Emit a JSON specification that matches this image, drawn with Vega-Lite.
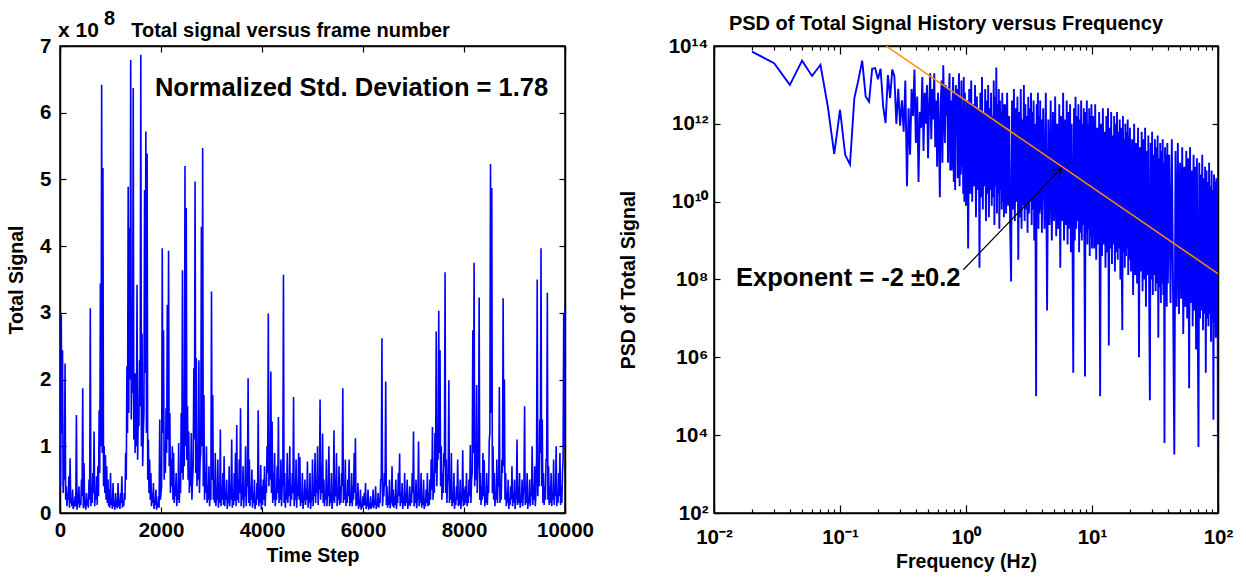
{
"$schema": "https://vega.github.io/schema/vega-lite/v6.json",
"background": "white",
"padding": {"left": 5, "top": 8, "right": 5, "bottom": 5},
"bounds": "flush",
"spacing": 149,
"config": {
  "font": "Liberation Sans",
  "view": {"stroke": "black", "strokeWidth": 1.5},
  "axis": {"grid": false, "domainColor": "black", "domainWidth": 1.5, "tickColor": "black", "tickWidth": 1.2, "labelFlush": false,
    "labelFont": "Liberation Sans", "labelFontSize": 20.5, "labelFontWeight": "bold", "labelColor": "black",
    "titleFont": "Liberation Sans", "titleFontSize": 19.5, "titleFontWeight": "bold", "titleColor": "black"},
  "text": {"font": "Liberation Sans", "fontWeight": "bold", "color": "black"}
},
"datasets": {
  "signal": [
{"t":0,"v":0.5e8},{"t":25,"v":2.97e8},{"t":50,"v":2.44e8},{"t":75,"v":0.6e8},{"t":100,"v":2.24e8},{"t":125,"v":0.4e8},{"t":150,"v":0.3e8},{"t":175,"v":0.55e8},{"t":200,"v":0.82e8},{"t":225,"v":0.2e8},
{"t":250,"v":0.35e8},{"t":275,"v":0.1e8},{"t":300,"v":0.25e8},{"t":325,"v":1.47e8},{"t":350,"v":0.15e8},{"t":375,"v":0.4e8},{"t":400,"v":0.2e8},{"t":425,"v":0.5e8},{"t":450,"v":1.87e8},{"t":475,"v":0.75e8},
{"t":500,"v":0.1e8},{"t":525,"v":0.3e8},{"t":550,"v":0.15e8},{"t":575,"v":0.5e8},{"t":600,"v":3.07e8},{"t":625,"v":0.4e8},{"t":650,"v":0.6e8},{"t":675,"v":1.22e8},{"t":700,"v":0.3e8},{"t":725,"v":0.55e8},
{"t":750,"v":0.7e8},{"t":775,"v":1.54e8},{"t":800,"v":3.44e8},{"t":825,"v":6.42e8},{"t":850,"v":5.17e8},{"t":875,"v":1.0e8},{"t":900,"v":0.87e8},{"t":925,"v":0.7e8},{"t":950,"v":0.5e8},{"t":975,"v":0.35e8},
{"t":1000,"v":0.6e8},{"t":1025,"v":0.2e8},{"t":1050,"v":0.45e8},{"t":1075,"v":0.15e8},{"t":1100,"v":0.3e8},{"t":1125,"v":0.1e8},{"t":1150,"v":0.45e8},{"t":1175,"v":0.2e8},{"t":1200,"v":0.3e8},{"t":1225,"v":0.55e8},
{"t":1250,"v":0.15e8},{"t":1275,"v":0.3e8},{"t":1300,"v":0.9e8},{"t":1325,"v":2.2e8},{"t":1350,"v":4.89e8},{"t":1375,"v":4.27e8},{"t":1400,"v":6.79e8},{"t":1425,"v":2.2e8},{"t":1450,"v":6.37e8},{"t":1475,"v":2.1e8},
{"t":1500,"v":2.09e8},{"t":1525,"v":3.42e8},{"t":1550,"v":1.5e8},{"t":1575,"v":2.29e8},{"t":1600,"v":6.87e8},{"t":1625,"v":2.69e8},{"t":1650,"v":1.2e8},{"t":1675,"v":4.84e8},{"t":1700,"v":5.72e8},{"t":1725,"v":5.39e8},
{"t":1750,"v":1.1e8},{"t":1775,"v":0.8e8},{"t":1800,"v":0.6e8},{"t":1825,"v":0.3e8},{"t":1850,"v":0.45e8},{"t":1875,"v":0.2e8},{"t":1900,"v":0.35e8},{"t":1925,"v":0.1e8},{"t":1950,"v":0.25e8},{"t":1975,"v":1.4e8},
{"t":2000,"v":0.3e8},{"t":2025,"v":3.97e8},{"t":2050,"v":2.74e8},{"t":2075,"v":1.0e8},{"t":2100,"v":1.57e8},{"t":2125,"v":3.12e8},{"t":2150,"v":3.93e8},{"t":2175,"v":1.5e8},{"t":2200,"v":0.8e8},{"t":2225,"v":1.0e8},
{"t":2250,"v":0.9e8},{"t":2275,"v":0.4e8},{"t":2300,"v":0.6e8},{"t":2325,"v":0.3e8},{"t":2350,"v":1.05e8},{"t":2375,"v":0.5e8},{"t":2400,"v":1.5e8},{"t":2425,"v":3.64e8},{"t":2450,"v":1.2e8},{"t":2475,"v":5.2e8},
{"t":2500,"v":4.57e8},{"t":2525,"v":1.6e8},{"t":2550,"v":1.22e8},{"t":2575,"v":0.6e8},{"t":2600,"v":1.2e8},{"t":2625,"v":0.5e8},{"t":2650,"v":2.17e8},{"t":2675,"v":4.97e8},{"t":2700,"v":2.32e8},{"t":2725,"v":1.0e8},
{"t":2750,"v":2.29e8},{"t":2775,"v":0.8e8},{"t":2800,"v":4.29e8},{"t":2825,"v":5.47e8},{"t":2850,"v":1.77e8},{"t":2875,"v":0.6e8},{"t":2900,"v":1.0e8},{"t":2925,"v":0.4e8},{"t":2950,"v":0.7e8},{"t":2975,"v":0.3e8},
{"t":3000,"v":3.32e8},{"t":3025,"v":1.77e8},{"t":3050,"v":0.5e8},{"t":3075,"v":0.9e8},{"t":3100,"v":0.3e8},{"t":3125,"v":0.8e8},{"t":3150,"v":0.45e8},{"t":3175,"v":1.25e8},{"t":3200,"v":0.4e8},{"t":3225,"v":0.6e8},
{"t":3250,"v":0.85e8},{"t":3275,"v":0.3e8},{"t":3300,"v":0.5e8},{"t":3325,"v":0.2e8},{"t":3350,"v":0.7e8},{"t":3375,"v":0.4e8},{"t":3400,"v":1.1e8},{"t":3425,"v":0.3e8},{"t":3450,"v":0.6e8},{"t":3475,"v":0.9e8},
{"t":3500,"v":1.32e8},{"t":3525,"v":0.5e8},{"t":3550,"v":0.8e8},{"t":3575,"v":1.57e8},{"t":3600,"v":0.4e8},{"t":3625,"v":0.7e8},{"t":3650,"v":0.3e8},{"t":3675,"v":1.0e8},{"t":3700,"v":0.5e8},{"t":3725,"v":2.02e8},
{"t":3750,"v":0.8e8},{"t":3775,"v":0.4e8},{"t":3800,"v":0.65e8},{"t":3825,"v":0.3e8},{"t":3850,"v":0.5e8},{"t":3875,"v":0.2e8},{"t":3900,"v":0.45e8},{"t":3925,"v":1.54e8},{"t":3950,"v":0.3e8},{"t":3975,"v":0.72e8},
{"t":4000,"v":0.4e8},{"t":4025,"v":0.5e8},{"t":4050,"v":0.7e8},{"t":4075,"v":0.4e8},{"t":4100,"v":1.0e8},{"t":4125,"v":2.99e8},{"t":4150,"v":0.8e8},{"t":4175,"v":2.12e8},{"t":4200,"v":1.37e8},{"t":4225,"v":0.6e8},
{"t":4250,"v":0.9e8},{"t":4275,"v":0.3e8},{"t":4300,"v":0.7e8},{"t":4325,"v":1.44e8},{"t":4350,"v":0.5e8},{"t":4375,"v":0.8e8},{"t":4400,"v":0.4e8},{"t":4425,"v":3.57e8},{"t":4450,"v":0.6e8},{"t":4475,"v":0.3e8},
{"t":4500,"v":0.9e8},{"t":4525,"v":0.5e8},{"t":4550,"v":1.0e8},{"t":4575,"v":0.4e8},{"t":4600,"v":0.6e8},{"t":4625,"v":1.74e8},{"t":4650,"v":0.3e8},{"t":4675,"v":0.8e8},{"t":4700,"v":0.4e8},{"t":4725,"v":0.9e8},
{"t":4750,"v":0.84e8},{"t":4775,"v":0.3e8},{"t":4800,"v":0.6e8},{"t":4825,"v":0.2e8},{"t":4850,"v":0.5e8},{"t":4875,"v":0.35e8},{"t":4900,"v":0.77e8},{"t":4925,"v":0.3e8},{"t":4950,"v":0.6e8},{"t":4975,"v":0.2e8},
{"t":5000,"v":0.8e8},{"t":5025,"v":0.4e8},{"t":5050,"v":0.9e8},{"t":5075,"v":0.5e8},{"t":5100,"v":1.0e8},{"t":5125,"v":0.4e8},{"t":5150,"v":1.7e8},{"t":5175,"v":0.7e8},{"t":5200,"v":1.19e8},{"t":5225,"v":0.5e8},
{"t":5250,"v":0.3e8},{"t":5275,"v":0.8e8},{"t":5300,"v":0.4e8},{"t":5325,"v":1.0e8},{"t":5350,"v":0.3e8},{"t":5375,"v":0.6e8},{"t":5400,"v":0.2e8},{"t":5425,"v":1.24e8},{"t":5450,"v":0.5e8},{"t":5475,"v":0.9e8},
{"t":5500,"v":0.3e8},{"t":5525,"v":0.7e8},{"t":5550,"v":0.4e8},{"t":5575,"v":0.6e8},{"t":5600,"v":1.87e8},{"t":5625,"v":0.4e8},{"t":5650,"v":0.8e8},{"t":5675,"v":0.3e8},{"t":5700,"v":0.5e8},{"t":5725,"v":0.8e8},
{"t":5750,"v":0.3e8},{"t":5775,"v":0.6e8},{"t":5800,"v":0.4e8},{"t":5825,"v":0.9e8},{"t":5850,"v":1.12e8},{"t":5875,"v":0.3e8},{"t":5900,"v":0.45e8},{"t":5925,"v":0.2e8},{"t":5950,"v":0.35e8},{"t":5975,"v":0.1e8},
{"t":6000,"v":0.25e8},{"t":6025,"v":0.3e8},{"t":6050,"v":0.45e8},{"t":6075,"v":0.15e8},{"t":6100,"v":0.35e8},{"t":6125,"v":0.1e8},{"t":6150,"v":0.25e8},{"t":6175,"v":0.15e8},{"t":6200,"v":0.35e8},{"t":6225,"v":0.2e8},
{"t":6250,"v":0.4e8},{"t":6275,"v":0.15e8},{"t":6300,"v":0.3e8},{"t":6325,"v":0.2e8},{"t":6350,"v":0.5e8},{"t":6375,"v":2.62e8},{"t":6400,"v":0.3e8},{"t":6425,"v":0.6e8},{"t":6450,"v":1.97e8},{"t":6475,"v":0.4e8},
{"t":6500,"v":0.25e8},{"t":6525,"v":0.5e8},{"t":6550,"v":0.2e8},{"t":6575,"v":0.7e8},{"t":6600,"v":0.35e8},{"t":6625,"v":0.25e8},{"t":6650,"v":0.5e8},{"t":6675,"v":0.2e8},{"t":6700,"v":0.6e8},{"t":6725,"v":0.89e8},
{"t":6750,"v":0.3e8},{"t":6775,"v":0.45e8},{"t":6800,"v":0.2e8},{"t":6825,"v":0.6e8},{"t":6850,"v":0.3e8},{"t":6875,"v":0.5e8},{"t":6900,"v":0.2e8},{"t":6925,"v":0.4e8},{"t":6950,"v":0.3e8},{"t":6975,"v":0.6e8},
{"t":7000,"v":1.22e8},{"t":7025,"v":0.25e8},{"t":7050,"v":0.5e8},{"t":7075,"v":0.2e8},{"t":7100,"v":1.07e8},{"t":7125,"v":0.35e8},{"t":7150,"v":0.6e8},{"t":7175,"v":0.25e8},{"t":7200,"v":0.5e8},{"t":7225,"v":0.2e8},
{"t":7250,"v":0.35e8},{"t":7275,"v":0.6e8},{"t":7300,"v":0.3e8},{"t":7325,"v":0.5e8},{"t":7350,"v":0.8e8},{"t":7375,"v":1.29e8},{"t":7400,"v":0.6e8},{"t":7425,"v":1.2e8},{"t":7450,"v":2.72e8},{"t":7475,"v":1.0e8},
{"t":7500,"v":3.03e8},{"t":7525,"v":2.44e8},{"t":7550,"v":1.0e8},{"t":7575,"v":0.6e8},{"t":7600,"v":0.9e8},{"t":7625,"v":3.61e8},{"t":7650,"v":0.8e8},{"t":7675,"v":0.5e8},{"t":7700,"v":1.99e8},{"t":7725,"v":0.5e8},
{"t":7750,"v":0.9e8},{"t":7775,"v":0.3e8},{"t":7800,"v":0.6e8},{"t":7825,"v":0.2e8},{"t":7850,"v":0.4e8},{"t":7875,"v":0.8e8},{"t":7900,"v":0.3e8},{"t":7925,"v":0.5e8},{"t":7950,"v":0.2e8},{"t":7975,"v":0.94e8},
{"t":8000,"v":0.35e8},{"t":8025,"v":0.4e8},{"t":8050,"v":0.6e8},{"t":8075,"v":0.3e8},{"t":8100,"v":0.5e8},{"t":8125,"v":1.02e8},{"t":8150,"v":0.5e8},{"t":8175,"v":2.74e8},{"t":8200,"v":3.75e8},{"t":8225,"v":1.0e8},
{"t":8250,"v":1.92e8},{"t":8275,"v":0.7e8},{"t":8300,"v":3.23e8},{"t":8325,"v":0.6e8},{"t":8350,"v":0.4e8},{"t":8375,"v":0.9e8},{"t":8400,"v":0.79e8},{"t":8425,"v":0.3e8},{"t":8450,"v":0.6e8},{"t":8475,"v":0.4e8},
{"t":8500,"v":1.09e8},{"t":8525,"v":5.23e8},{"t":8550,"v":4.87e8},{"t":8575,"v":1.0e8},{"t":8600,"v":0.6e8},{"t":8625,"v":0.3e8},{"t":8650,"v":0.8e8},{"t":8675,"v":0.5e8},{"t":8700,"v":1.89e8},{"t":8725,"v":0.4e8},
{"t":8750,"v":0.8e8},{"t":8775,"v":3.22e8},{"t":8800,"v":2.0e8},{"t":8825,"v":0.6e8},{"t":8850,"v":0.3e8},{"t":8875,"v":0.5e8},{"t":8900,"v":0.2e8},{"t":8925,"v":0.4e8},{"t":8950,"v":0.7e8},{"t":8975,"v":0.3e8},
{"t":9000,"v":0.5e8},{"t":9025,"v":0.2e8},{"t":9050,"v":1.1e8},{"t":9075,"v":0.4e8},{"t":9100,"v":0.6e8},{"t":9125,"v":0.25e8},{"t":9150,"v":0.5e8},{"t":9175,"v":0.3e8},{"t":9200,"v":1.6e8},{"t":9225,"v":0.4e8},
{"t":9250,"v":0.6e8},{"t":9275,"v":0.2e8},{"t":9300,"v":0.5e8},{"t":9325,"v":0.3e8},{"t":9350,"v":1.0e8},{"t":9375,"v":0.4e8},{"t":9400,"v":0.7e8},{"t":9425,"v":0.3e8},{"t":9450,"v":3.5e8},{"t":9475,"v":0.8e8},
{"t":9500,"v":1.4e8},{"t":9525,"v":3.97e8},{"t":9550,"v":1.4e8},{"t":9575,"v":0.6e8},{"t":9600,"v":0.4e8},{"t":9625,"v":0.8e8},{"t":9650,"v":3.3e8},{"t":9675,"v":0.7e8},{"t":9700,"v":0.4e8},{"t":9725,"v":0.6e8},
{"t":9750,"v":0.3e8},{"t":9775,"v":0.8e8},{"t":9800,"v":0.4e8},{"t":9825,"v":1.0e8},{"t":9850,"v":0.3e8},{"t":9875,"v":0.6e8},{"t":9900,"v":0.9e8},{"t":9925,"v":0.4e8},{"t":9950,"v":0.6e8},{"t":9975,"v":3.0e8},
{"t":10000,"v":3.05e8},
{"t":12,"v":0.4e8},{"t":37,"v":1.2e8},{"t":62,"v":0.3e8},{"t":87,"v":0.5e8},{"t":112,"v":0.2e8},{"t":137,"v":0.1e8},{"t":162,"v":0.2e8},{"t":187,"v":0.08e8},{"t":212,"v":0.15e8},{"t":237,"v":0.1e8},
{"t":262,"v":0.06e8},{"t":287,"v":0.15e8},{"t":312,"v":0.1e8},{"t":337,"v":0.05e8},{"t":362,"v":0.2e8},{"t":387,"v":0.08e8},{"t":412,"v":0.12e8},{"t":437,"v":0.25e8},{"t":462,"v":0.07e8},{"t":487,"v":0.15e8},
{"t":512,"v":0.05e8},{"t":537,"v":0.12e8},{"t":562,"v":0.08e8},{"t":587,"v":0.2e8},{"t":612,"v":0.1e8},{"t":637,"v":0.15e8},{"t":662,"v":0.3e8},{"t":687,"v":0.1e8},{"t":712,"v":0.2e8},{"t":737,"v":0.12e8},
{"t":762,"v":0.25e8},{"t":787,"v":0.6e8},{"t":812,"v":1.0e8},{"t":837,"v":0.9e8},{"t":862,"v":0.4e8},{"t":887,"v":0.3e8},{"t":912,"v":0.2e8},{"t":937,"v":0.15e8},{"t":962,"v":0.1e8},{"t":987,"v":0.08e8},
{"t":1012,"v":0.12e8},{"t":1037,"v":0.06e8},{"t":1062,"v":0.1e8},{"t":1087,"v":0.05e8},{"t":1112,"v":0.12e8},{"t":1137,"v":0.07e8},{"t":1162,"v":0.1e8},{"t":1187,"v":0.06e8},{"t":1212,"v":0.15e8},{"t":1237,"v":0.08e8},
{"t":1262,"v":0.1e8},{"t":1287,"v":0.2e8},{"t":1312,"v":0.5e8},{"t":1337,"v":1.2e8},{"t":1362,"v":1.5e8},{"t":1387,"v":2.0e8},{"t":1412,"v":1.4e8},{"t":1437,"v":1.8e8},{"t":1462,"v":1.1e8},{"t":1487,"v":0.9e8},
{"t":1512,"v":1.0e8},{"t":1537,"v":0.8e8},{"t":1562,"v":1.3e8},{"t":1587,"v":1.6e8},{"t":1612,"v":1.0e8},{"t":1637,"v":0.7e8},{"t":1662,"v":1.5e8},{"t":1687,"v":2.1e8},{"t":1712,"v":1.2e8},{"t":1737,"v":0.5e8},
{"t":1762,"v":0.3e8},{"t":1787,"v":0.2e8},{"t":1812,"v":0.1e8},{"t":1837,"v":0.15e8},{"t":1862,"v":0.06e8},{"t":1887,"v":0.12e8},{"t":1912,"v":0.05e8},{"t":1937,"v":0.1e8},{"t":1962,"v":0.08e8},{"t":1987,"v":0.2e8},
{"t":2012,"v":0.4e8},{"t":2037,"v":1.2e8},{"t":2062,"v":0.5e8},{"t":2087,"v":0.6e8},{"t":2112,"v":0.9e8},{"t":2137,"v":1.1e8},{"t":2162,"v":0.7e8},{"t":2187,"v":0.3e8},{"t":2212,"v":0.4e8},{"t":2237,"v":0.2e8},
{"t":2262,"v":0.15e8},{"t":2287,"v":0.25e8},{"t":2312,"v":0.1e8},{"t":2337,"v":0.2e8},{"t":2362,"v":0.15e8},{"t":2387,"v":0.3e8},{"t":2412,"v":0.6e8},{"t":2437,"v":0.5e8},{"t":2462,"v":0.7e8},{"t":2487,"v":1.0e8},
{"t":2512,"v":0.8e8},{"t":2537,"v":0.5e8},{"t":2562,"v":0.3e8},{"t":2587,"v":0.4e8},{"t":2612,"v":0.2e8},{"t":2637,"v":0.7e8},{"t":2662,"v":1.1e8},{"t":2687,"v":0.6e8},{"t":2712,"v":0.4e8},{"t":2737,"v":0.5e8},
{"t":2762,"v":0.3e8},{"t":2787,"v":0.9e8},{"t":2812,"v":1.0e8},{"t":2837,"v":0.4e8},{"t":2862,"v":0.2e8},{"t":2887,"v":0.3e8},{"t":2912,"v":0.15e8},{"t":2937,"v":0.2e8},{"t":2962,"v":0.1e8},{"t":2987,"v":0.2e8},
{"t":3012,"v":0.5e8},{"t":3037,"v":0.2e8},{"t":3062,"v":0.15e8},{"t":3087,"v":0.1e8},{"t":3112,"v":0.2e8},{"t":3137,"v":0.08e8},{"t":3162,"v":0.15e8},{"t":3187,"v":0.1e8},{"t":3212,"v":0.2e8},{"t":3237,"v":0.12e8},
{"t":3262,"v":0.1e8},{"t":3287,"v":0.2e8},{"t":3312,"v":0.06e8},{"t":3337,"v":0.15e8},{"t":3362,"v":0.1e8},{"t":3387,"v":0.2e8},{"t":3412,"v":0.08e8},{"t":3437,"v":0.12e8},{"t":3462,"v":0.18e8},{"t":3487,"v":0.1e8},
{"t":3512,"v":0.2e8},{"t":3537,"v":0.15e8},{"t":3562,"v":0.3e8},{"t":3587,"v":0.1e8},{"t":3612,"v":0.2e8},{"t":3637,"v":0.08e8},{"t":3662,"v":0.25e8},{"t":3687,"v":0.1e8},{"t":3712,"v":0.4e8},{"t":3737,"v":0.15e8},
{"t":3762,"v":0.1e8},{"t":3787,"v":0.2e8},{"t":3812,"v":0.08e8},{"t":3837,"v":0.15e8},{"t":3862,"v":0.06e8},{"t":3887,"v":0.12e8},{"t":3912,"v":0.2e8},{"t":3937,"v":0.1e8},{"t":3962,"v":0.15e8},{"t":3987,"v":0.05e8},
{"t":4012,"v":0.12e8},{"t":4037,"v":0.2e8},{"t":4062,"v":0.1e8},{"t":4087,"v":0.3e8},{"t":4112,"v":0.6e8},{"t":4137,"v":0.4e8},{"t":4162,"v":0.5e8},{"t":4187,"v":0.3e8},{"t":4212,"v":0.15e8},{"t":4237,"v":0.2e8},
{"t":4262,"v":0.1e8},{"t":4287,"v":0.2e8},{"t":4312,"v":0.3e8},{"t":4337,"v":0.15e8},{"t":4362,"v":0.2e8},{"t":4387,"v":0.1e8},{"t":4412,"v":0.5e8},{"t":4437,"v":0.15e8},{"t":4462,"v":0.08e8},{"t":4487,"v":0.2e8},
{"t":4512,"v":0.15e8},{"t":4537,"v":0.25e8},{"t":4562,"v":0.1e8},{"t":4587,"v":0.2e8},{"t":4612,"v":0.3e8},{"t":4637,"v":0.1e8},{"t":4662,"v":0.2e8},{"t":4687,"v":0.08e8},{"t":4712,"v":0.25e8},{"t":4737,"v":0.2e8},
{"t":4762,"v":0.1e8},{"t":4787,"v":0.15e8},{"t":4812,"v":0.06e8},{"t":4837,"v":0.2e8},{"t":4862,"v":0.12e8},{"t":4887,"v":0.2e8},{"t":4912,"v":0.08e8},{"t":4937,"v":0.15e8},{"t":4962,"v":0.06e8},{"t":4987,"v":0.2e8},
{"t":5012,"v":0.1e8},{"t":5037,"v":0.25e8},{"t":5062,"v":0.15e8},{"t":5087,"v":0.3e8},{"t":5112,"v":0.12e8},{"t":5137,"v":0.35e8},{"t":5162,"v":0.2e8},{"t":5187,"v":0.3e8},{"t":5212,"v":0.15e8},{"t":5237,"v":0.1e8},
{"t":5262,"v":0.2e8},{"t":5287,"v":0.1e8},{"t":5312,"v":0.25e8},{"t":5337,"v":0.1e8},{"t":5362,"v":0.15e8},{"t":5387,"v":0.06e8},{"t":5412,"v":0.2e8},{"t":5437,"v":0.15e8},{"t":5462,"v":0.25e8},{"t":5487,"v":0.1e8},
{"t":5512,"v":0.2e8},{"t":5537,"v":0.12e8},{"t":5562,"v":0.15e8},{"t":5587,"v":0.4e8},{"t":5612,"v":0.15e8},{"t":5637,"v":0.2e8},{"t":5662,"v":0.1e8},{"t":5687,"v":0.15e8},{"t":5712,"v":0.25e8},{"t":5737,"v":0.1e8},
{"t":5762,"v":0.15e8},{"t":5787,"v":0.1e8},{"t":5812,"v":0.2e8},{"t":5837,"v":0.3e8},{"t":5862,"v":0.1e8},{"t":5887,"v":0.12e8},{"t":5912,"v":0.06e8},{"t":5937,"v":0.1e8},{"t":5962,"v":0.05e8},{"t":5987,"v":0.08e8},
{"t":6012,"v":0.1e8},{"t":6037,"v":0.12e8},{"t":6062,"v":0.06e8},{"t":6087,"v":0.1e8},{"t":6112,"v":0.05e8},{"t":6137,"v":0.08e8},{"t":6162,"v":0.06e8},{"t":6187,"v":0.1e8},{"t":6212,"v":0.07e8},{"t":6237,"v":0.12e8},
{"t":6262,"v":0.06e8},{"t":6287,"v":0.1e8},{"t":6312,"v":0.08e8},{"t":6337,"v":0.15e8},{"t":6362,"v":0.5e8},{"t":6387,"v":0.1e8},{"t":6412,"v":0.25e8},{"t":6437,"v":0.4e8},{"t":6462,"v":0.12e8},{"t":6487,"v":0.08e8},
{"t":6512,"v":0.12e8},{"t":6537,"v":0.07e8},{"t":6562,"v":0.15e8},{"t":6587,"v":0.1e8},{"t":6612,"v":0.08e8},{"t":6637,"v":0.12e8},{"t":6662,"v":0.06e8},{"t":6687,"v":0.15e8},{"t":6712,"v":0.25e8},{"t":6737,"v":0.1e8},
{"t":6762,"v":0.15e8},{"t":6787,"v":0.06e8},{"t":6812,"v":0.12e8},{"t":6837,"v":0.1e8},{"t":6862,"v":0.15e8},{"t":6887,"v":0.06e8},{"t":6912,"v":0.12e8},{"t":6937,"v":0.1e8},{"t":6962,"v":0.15e8},{"t":6987,"v":0.3e8},
{"t":7012,"v":0.1e8},{"t":7037,"v":0.15e8},{"t":7062,"v":0.07e8},{"t":7087,"v":0.25e8},{"t":7112,"v":0.1e8},{"t":7137,"v":0.15e8},{"t":7162,"v":0.08e8},{"t":7187,"v":0.12e8},{"t":7212,"v":0.06e8},{"t":7237,"v":0.1e8},
{"t":7262,"v":0.15e8},{"t":7287,"v":0.1e8},{"t":7312,"v":0.12e8},{"t":7337,"v":0.2e8},{"t":7362,"v":0.35e8},{"t":7387,"v":0.2e8},{"t":7412,"v":0.3e8},{"t":7437,"v":0.6e8},{"t":7462,"v":0.4e8},{"t":7487,"v":0.8e8},
{"t":7512,"v":0.9e8},{"t":7537,"v":0.4e8},{"t":7562,"v":0.2e8},{"t":7587,"v":0.3e8},{"t":7612,"v":0.7e8},{"t":7637,"v":0.3e8},{"t":7662,"v":0.15e8},{"t":7687,"v":0.5e8},{"t":7712,"v":0.15e8},{"t":7737,"v":0.2e8},
{"t":7762,"v":0.1e8},{"t":7787,"v":0.15e8},{"t":7812,"v":0.06e8},{"t":7837,"v":0.12e8},{"t":7862,"v":0.2e8},{"t":7887,"v":0.1e8},{"t":7912,"v":0.12e8},{"t":7937,"v":0.06e8},{"t":7962,"v":0.2e8},{"t":7987,"v":0.1e8},
{"t":8012,"v":0.12e8},{"t":8037,"v":0.15e8},{"t":8062,"v":0.1e8},{"t":8087,"v":0.15e8},{"t":8112,"v":0.25e8},{"t":8137,"v":0.15e8},{"t":8162,"v":0.6e8},{"t":8187,"v":0.9e8},{"t":8212,"v":0.4e8},{"t":8237,"v":0.5e8},
{"t":8262,"v":0.3e8},{"t":8287,"v":0.7e8},{"t":8312,"v":0.2e8},{"t":8337,"v":0.12e8},{"t":8362,"v":0.2e8},{"t":8387,"v":0.25e8},{"t":8412,"v":0.1e8},{"t":8437,"v":0.15e8},{"t":8462,"v":0.12e8},{"t":8487,"v":0.3e8},
{"t":8512,"v":1.2e8},{"t":8537,"v":1.5e8},{"t":8562,"v":0.3e8},{"t":8587,"v":0.2e8},{"t":8612,"v":0.1e8},{"t":8637,"v":0.2e8},{"t":8662,"v":0.15e8},{"t":8687,"v":0.4e8},{"t":8712,"v":0.15e8},{"t":8737,"v":0.2e8},
{"t":8762,"v":0.6e8},{"t":8787,"v":0.7e8},{"t":8812,"v":0.2e8},{"t":8837,"v":0.1e8},{"t":8862,"v":0.15e8},{"t":8887,"v":0.06e8},{"t":8912,"v":0.12e8},{"t":8937,"v":0.2e8},{"t":8962,"v":0.1e8},{"t":8987,"v":0.15e8},
{"t":9012,"v":0.06e8},{"t":9037,"v":0.3e8},{"t":9062,"v":0.12e8},{"t":9087,"v":0.15e8},{"t":9112,"v":0.08e8},{"t":9137,"v":0.15e8},{"t":9162,"v":0.1e8},{"t":9187,"v":0.4e8},{"t":9212,"v":0.12e8},{"t":9237,"v":0.15e8},
{"t":9262,"v":0.06e8},{"t":9287,"v":0.15e8},{"t":9312,"v":0.1e8},{"t":9337,"v":0.25e8},{"t":9362,"v":0.12e8},{"t":9387,"v":0.2e8},{"t":9412,"v":0.1e8},{"t":9437,"v":0.8e8},{"t":9462,"v":0.25e8},{"t":9487,"v":0.4e8},
{"t":9512,"v":0.9e8},{"t":9537,"v":0.4e8},{"t":9562,"v":0.15e8},{"t":9587,"v":0.12e8},{"t":9612,"v":0.2e8},{"t":9637,"v":0.8e8},{"t":9662,"v":0.2e8},{"t":9687,"v":0.12e8},{"t":9712,"v":0.15e8},{"t":9737,"v":0.1e8},
{"t":9762,"v":0.2e8},{"t":9787,"v":0.12e8},{"t":9812,"v":0.25e8},{"t":9837,"v":0.1e8},{"t":9862,"v":0.15e8},{"t":9887,"v":0.25e8},{"t":9912,"v":0.12e8},{"t":9937,"v":0.15e8},{"t":9962,"v":0.8e8},{"t":9987,"v":1.0e8}
  ],
  "psd": [
{"f":0.02,"p":7.2e13},{"f":0.03,"p":3.6e13},{"f":0.04,"p":1.0e13},{"f":0.05,"p":4.2e13},{"f":0.06,"p":1.7e13},{"f":0.07,"p":3.3e13},{"f":0.08,"p":2.8e12},{"f":0.09,"p":1.7e11},{"f":0.10,"p":2.3e12},{"f":0.11,"p":1.6e11},
{"f":0.12,"p":9.1e10},{"f":0.13,"p":4.6e12},{"f":0.14,"p":1.35e13},{"f":0.15,"p":4.2e13},{"f":0.16,"p":5e12},{"f":0.17,"p":3.7e12},{"f":0.18,"p":2.6e13},{"f":0.19,"p":2.7e13},{"f":0.20,"p":1.4e13},{"f":0.21,"p":2.6e13},
{"f":0.22,"p":2.8e12},{"f":0.23,"p":1.05e12},{"f":0.24,"p":1.8e13},{"f":0.25,"p":4.6e12},{"f":0.26,"p":2.5e13},{"f":0.27,"p":1.7e13},{"f":0.28,"p":1.0e12},{"f":0.29,"p":7.9e12},{"f":0.30,"p":8.9e11},
{"f":0.31,"p":4e12},{"f":0.32,"p":6.3e11},{"f":0.33,"p":1.3e13},{"f":0.34,"p":2.5e10},{"f":0.35,"p":2.5e12},{"f":0.36,"p":1.6e11},{"f":0.37,"p":7.9e12},{"f":0.38,"p":1.6e12},{"f":0.39,"p":2.5e13},{"f":0.40,"p":3.2e11},
{"f":0.41,"p":5e12},{"f":0.42,"p":3.2e10},{"f":0.43,"p":2e12},{"f":0.44,"p":7.9e11},{"f":0.45,"p":1.6e13},{"f":0.46,"p":2e11},{"f":0.47,"p":6.3e12},{"f":0.48,"p":1e12},{"f":0.49,"p":1e13},{"f":0.50,"p":1.3e11},
{"f":0.51,"p":3.2e12},{"f":0.52,"p":2e13},{"f":0.53,"p":4e11},{"f":0.54,"p":7.9e12},{"f":0.55,"p":1.3e12},{"f":0.56,"p":2e13},{"f":0.57,"p":2.5e11},{"f":0.58,"p":4e12},{"f":0.59,"p":7.9e10},{"f":0.60,"p":6.3e12},
{"f":0.61,"p":6.3e11},{"f":0.62,"p":1.3e10},{"f":0.63,"p":3.2e12},{"f":0.64,"p":1.3e13},{"f":0.65,"p":1e11},{"f":0.66,"p":3.2e13},{"f":0.67,"p":2e12},{"f":0.68,"p":3.2e11},{"f":0.69,"p":1e13},{"f":0.70,"p":1.6e12},
{"f":0.71,"p":7.9e12},{"f":0.72,"p":1e11},{"f":0.73,"p":5e12},{"f":0.74,"p":2e13},{"f":0.75,"p":6.3e10},{"f":0.76,"p":4e12},{"f":0.77,"p":6.3e10},{"f":0.78,"p":2.5e12},{"f":0.79,"p":1.6e13},{"f":0.80,"p":3.2e10},
{"f":0.81,"p":6.3e12},{"f":0.82,"p":2e10},{"f":0.83,"p":1e13},{"f":0.84,"p":1.3e12},{"f":0.85,"p":7.9e12},{"f":0.86,"p":4e10},{"f":0.87,"p":3.2e12},{"f":0.88,"p":2e13},{"f":0.89,"p":2.5e10},{"f":0.90,"p":5e12},
{"f":0.91,"p":5e10},{"f":0.92,"p":1.3e13},{"f":0.93,"p":7.9e10},{"f":0.94,"p":2.5e12},{"f":0.95,"p":1.6e10},{"f":0.96,"p":1.6e13},{"f":0.97,"p":1e10},{"f":0.98,"p":6.3e12},{"f":0.99,"p":3.2e10},{"f":1.00,"p":7.9e9},
{"f":1.02,"p":4e12},{"f":1.04,"p":6.3e8},{"f":1.06,"p":7.9e12},{"f":1.08,"p":1.6e10},{"f":1.10,"p":1.3e13},{"f":1.12,"p":1e10},{"f":1.14,"p":3.2e12},{"f":1.16,"p":2.5e10},{"f":1.18,"p":1e13},{"f":1.20,"p":4e9},
{"f":1.22,"p":5e12},{"f":1.24,"p":2e10},{"f":1.26,"p":2.5e12},{"f":1.28,"p":2e8},{"f":1.30,"p":6.3e12},{"f":1.32,"p":1.3e10},{"f":1.34,"p":1.6e13},{"f":1.36,"p":6.3e9},{"f":1.38,"p":2e12},{"f":1.40,"p":2.5e10},
{"f":1.42,"p":7.9e12},{"f":1.44,"p":3.2e9},{"f":1.46,"p":4e12},{"f":1.48,"p":1.6e10},{"f":1.50,"p":1e13},{"f":1.52,"p":4e9},{"f":1.54,"p":2.5e12},{"f":1.56,"p":2e10},{"f":1.58,"p":6.3e12},{"f":1.60,"p":7.9e9},
{"f":1.62,"p":1.6e12},{"f":1.64,"p":1.3e10},{"f":1.66,"p":1.3e13},{"f":1.68,"p":2.5e9},{"f":1.70,"p":5e12},{"f":1.72,"p":2.5e10},{"f":1.74,"p":2.8e13},{"f":1.76,"p":5e9},{"f":1.78,"p":3.2e12},{"f":1.80,"p":1.6e10},
{"f":1.82,"p":7.9e12},{"f":1.84,"p":2e9},{"f":1.86,"p":4e12},{"f":1.88,"p":2e10},{"f":1.90,"p":2e12},{"f":1.92,"p":6.3e9},{"f":1.94,"p":6.3e12},{"f":1.96,"p":1e10},{"f":1.98,"p":3.2e12},{"f":2.00,"p":4e9},
{"f":2.04,"p":3.2e12},{"f":2.08,"p":5e9},{"f":2.12,"p":6.3e12},{"f":2.16,"p":7.9e9},{"f":2.20,"p":1.6e12},{"f":2.24,"p":2.5e9},{"f":2.28,"p":8.9e7},{"f":2.32,"p":4e12},{"f":2.36,"p":6.3e9},{"f":2.40,"p":7.9e12},
{"f":2.44,"p":3.2e9},{"f":2.48,"p":2.5e12},{"f":2.52,"p":1e10},{"f":2.56,"p":5e12},{"f":2.60,"p":3.2e8},{"f":2.64,"p":2e12},{"f":2.68,"p":4e9},{"f":2.72,"p":7.9e12},{"f":2.76,"p":2e9},{"f":2.80,"p":1.3e12},
{"f":2.84,"p":7.9e9},{"f":2.88,"p":1e13},{"f":2.92,"p":3.2e9},{"f":2.96,"p":3.2e12},{"f":3.00,"p":6.3e9},{"f":3.04,"p":1.6e12},{"f":3.08,"p":1.6e9},{"f":3.12,"p":5e12},{"f":3.16,"p":5e9},{"f":3.20,"p":2.5e12},
{"f":3.24,"p":1e10},{"f":3.28,"p":6.3e12},{"f":3.32,"p":2.5e9},{"f":3.36,"p":2e12},{"f":3.40,"p":6.3e9},{"f":3.44,"p":4e12},{"f":3.48,"p":1e9},{"f":3.52,"p":1e12},{"f":3.56,"p":4e9},{"f":3.60,"p":1e5},
{"f":3.64,"p":3.2e12},{"f":3.68,"p":7.9e9},{"f":3.72,"p":6.3e12},{"f":3.76,"p":2e9},{"f":3.80,"p":1.6e12},{"f":3.84,"p":5e9},{"f":3.88,"p":4e12},{"f":3.92,"p":6.3e9},{"f":3.96,"p":1.3e12},{"f":4.00,"p":1.6e9},
{"f":4.1,"p":2.5e12},{"f":4.2,"p":2e9},{"f":4.3,"p":6.3e12},{"f":4.4,"p":1.6e7},{"f":4.5,"p":1.3e12},{"f":4.6,"p":2.5e9},{"f":4.7,"p":4e12},{"f":4.8,"p":1e9},{"f":4.9,"p":2e12},{"f":5.0,"p":3.2e9},
{"f":5.1,"p":5e12},{"f":5.2,"p":1.3e9},{"f":5.3,"p":1e12},{"f":5.4,"p":2e9},{"f":5.5,"p":3.2e12},{"f":5.6,"p":2e8},{"f":5.7,"p":1.6e12},{"f":5.8,"p":3.2e9},{"f":5.9,"p":6.3e12},{"f":6.0,"p":1e9},
{"f":6.1,"p":1.3e12},{"f":6.2,"p":2.5e9},{"f":6.3,"p":4e12},{"f":6.4,"p":7.9e8},{"f":6.5,"p":2e12},{"f":6.6,"p":2e9},{"f":6.7,"p":3.2e12},{"f":6.8,"p":5e8},{"f":6.9,"p":1e12},{"f":7.0,"p":1.6e9},
{"f":7.1,"p":4e5},{"f":7.2,"p":2.5e12},{"f":7.3,"p":1e9},{"f":7.4,"p":5e12},{"f":7.5,"p":2e9},{"f":7.6,"p":1.6e12},{"f":7.7,"p":3.2e9},{"f":7.8,"p":3.2e12},{"f":7.9,"p":5e8},{"f":8.0,"p":1.3e12},
{"f":8.1,"p":1.6e9},{"f":8.2,"p":4e12},{"f":8.3,"p":1e9},{"f":8.4,"p":1e12},{"f":8.5,"p":2.5e9},{"f":8.6,"p":2.5e12},{"f":8.7,"p":7.9e8},{"f":8.8,"p":3.2e5},{"f":8.9,"p":2e12},{"f":9.0,"p":1.6e9},
{"f":9.1,"p":4e12},{"f":9.2,"p":7.9e8},{"f":9.3,"p":1e12},{"f":9.4,"p":2e9},{"f":9.5,"p":2.5e12},{"f":9.6,"p":4e8},{"f":9.7,"p":1.6e12},{"f":9.8,"p":1.3e9},{"f":9.9,"p":3.2e12},{"f":10.0,"p":6.3e8},
{"f":10.2,"p":1.6e12},{"f":10.4,"p":6.3e8},{"f":10.6,"p":3.2e12},{"f":10.8,"p":3.2e8},{"f":11.0,"p":7.9e11},{"f":11.2,"p":7.9e8},{"f":11.4,"p":2e12},{"f":11.6,"p":1e5},{"f":11.8,"p":1e12},{"f":12.0,"p":4e8},
{"f":12.2,"p":2.5e12},{"f":12.4,"p":7.9e8},{"f":12.6,"p":6.3e11},{"f":12.8,"p":2e8},{"f":13.0,"p":1.6e12},{"f":13.2,"p":5e8},{"f":13.4,"p":2.5e12},{"f":13.6,"p":2e6},{"f":13.8,"p":7.9e11},{"f":14.0,"p":6.3e8},
{"f":14.2,"p":2e12},{"f":14.4,"p":2.5e8},{"f":14.6,"p":5e11},{"f":14.8,"p":7.9e8},{"f":15.0,"p":1.6e12},{"f":15.2,"p":1.6e8},{"f":15.4,"p":1e12},{"f":15.6,"p":5e8},{"f":15.8,"p":2e12},{"f":16.0,"p":3.2e8},
{"f":16.2,"p":6.3e11},{"f":16.4,"p":6.3e8},{"f":16.6,"p":1.3e12},{"f":16.8,"p":1e8},{"f":17.0,"p":7.9e11},{"f":17.2,"p":4e8},{"f":17.4,"p":5e6},{"f":17.6,"p":1.6e12},{"f":17.8,"p":5e8},{"f":18.0,"p":4e11},
{"f":18.2,"p":2e8},{"f":18.4,"p":1e12},{"f":18.6,"p":4e8},{"f":18.8,"p":6.3e11},{"f":19.0,"p":6.3e8},{"f":19.2,"p":1.3e12},{"f":19.4,"p":1.3e8},{"f":19.6,"p":5e11},{"f":19.8,"p":3.2e8},{"f":20.0,"p":7.9e11},
{"f":20.4,"p":1.6e8},{"f":20.8,"p":4e11},{"f":21.2,"p":4e7},{"f":21.6,"p":1e12},{"f":22.0,"p":1.3e8},{"f":22.4,"p":3.2e11},{"f":22.8,"p":7.9e7},{"f":23.2,"p":7.9e11},{"f":23.6,"p":1e6},{"f":24.0,"p":2.5e11},
{"f":24.4,"p":1.6e8},{"f":24.8,"p":6.3e11},{"f":25.2,"p":5e7},{"f":25.6,"p":4e11},{"f":26.0,"p":1e8},{"f":26.4,"p":7.9e11},{"f":26.8,"p":2e7},{"f":27.2,"p":2e11},{"f":27.6,"p":1.3e8},{"f":28.0,"p":5e11},
{"f":28.4,"p":6.3e7},{"f":28.8,"p":7.9e4},{"f":29.2,"p":3.2e11},{"f":29.6,"p":1e8},{"f":30.0,"p":6.3e11},{"f":30.4,"p":4e7},{"f":30.8,"p":1.6e11},{"f":31.2,"p":1.3e8},{"f":31.6,"p":4e11},{"f":32.0,"p":5e7},
{"f":32.4,"p":2.5e11},{"f":32.8,"p":7.9e7},{"f":33.2,"p":5e11},{"f":33.6,"p":3.2e6},{"f":34.0,"p":1.3e11},{"f":34.4,"p":6.3e7},{"f":34.8,"p":3.2e11},{"f":35.2,"p":2.5e7},{"f":35.6,"p":2e11},{"f":36.0,"p":7.9e7},
{"f":36.4,"p":4e11},{"f":36.8,"p":4e7},{"f":37.2,"p":1e11},{"f":37.6,"p":6.3e3},{"f":38.0,"p":2.5e11},{"f":38.4,"p":6.3e7},{"f":38.8,"p":1.6e11},{"f":39.2,"p":2e7},{"f":39.6,"p":3.2e11},{"f":40.0,"p":7.9e7},
{"f":41,"p":1.6e11},{"f":42,"p":2.5e7},{"f":43,"p":4e11},{"f":44,"p":4e7},{"f":45,"p":3.2e3},{"f":46,"p":2e11},{"f":47,"p":2e7},{"f":48,"p":3.2e11},{"f":49,"p":1.3e7},{"f":50,"p":1e11},
{"f":51,"p":3.2e7},{"f":52,"p":2.5e11},{"f":53,"p":4e6},{"f":54,"p":7.9e10},{"f":55,"p":2e7},{"f":56,"p":2e11},{"f":57,"p":1e7},{"f":58,"p":1.3e11},{"f":59,"p":1.6e5},{"f":60,"p":2.5e11},
{"f":61,"p":2.5e7},{"f":62,"p":6.3e10},{"f":63,"p":6.3e6},{"f":64,"p":1.6e11},{"f":65,"p":1.6e7},{"f":66,"p":7.9e10},{"f":67,"p":1.6e6},{"f":68,"p":1.3e11},{"f":69,"p":2e7},{"f":70,"p":5e3},
{"f":71,"p":1e11},{"f":72,"p":1e7},{"f":73,"p":5e10},{"f":74,"p":1.6e7},{"f":75,"p":1.6e11},{"f":76,"p":5e6},{"f":77,"p":4e10},{"f":78,"p":1.3e7},{"f":79,"p":7.9e10},{"f":80,"p":4e5},
{"f":81,"p":6.3e10},{"f":82,"p":1e7},{"f":83,"p":3.2e10},{"f":84,"p":6.3e6},{"f":85,"p":1e11},{"f":86,"p":1.3e7},{"f":87,"p":2.5e10},{"f":88,"p":2.5e6},{"f":89,"p":6.3e10},{"f":90,"p":7.9e6},
{"f":91,"p":2e10},{"f":92,"p":2.5e4},{"f":93,"p":5e10},{"f":94,"p":7.9e6},{"f":95,"p":3.2e10},{"f":96,"p":3.2e6},{"f":97,"p":4e10},{"f":98,"p":5e6},{"f":99,"p":1.6e10},{"f":100,"p":1e2}
  ],
  "fit": [{"f":0.232,"p":1e14},{"f":100,"p":1.41e8}]
},
"hconcat": [
  {
    "width": 505, "height": 467,
    "layer": [
      {
        "data": {"name": "signal"},
        "mark": {"type": "line", "color": "#0000ff", "strokeWidth": 1.6, "clip": true},
        "encoding": {
          "x": {"field": "t", "type": "quantitative", "scale": {"domain": [0, 10000], "nice": false, "zero": false},
            "axis": {"title": "Time Step", "values": [0, 2000, 4000, 6000, 8000, 10000], "format": "d", "tickSize": -6, "labelPadding": 13, "titlePadding": 6}},
          "y": {"field": "v", "type": "quantitative", "scale": {"domain": [0, 700000000], "nice": false},
            "axis": {"title": "Total Signal", "values": [0, 100000000, 200000000, 300000000, 400000000, 500000000, 600000000, 700000000], "labelExpr": "format(datum.value/100000000, 'd')", "tickSize": -6, "labelPadding": 15, "titlePadding": 13}}
        }
      },
      {
        "data": {"values": [{"t": 0, "v": 0}]},
        "mark": {"type": "point", "opacity": 0},
        "encoding": {
          "x": {"field": "t", "type": "quantitative", "scale": {"domain": [0, 10000], "nice": false, "zero": false},
            "axis": {"orient": "top", "title": null, "labels": false, "values": [0, 2000, 4000, 6000, 8000, 10000], "tickSize": -6}},
          "y": {"field": "v", "type": "quantitative", "scale": {"domain": [0, 700000000], "nice": false},
            "axis": {"orient": "right", "title": null, "labels": false, "values": [0, 100000000, 200000000, 300000000, 400000000, 500000000, 600000000, 700000000], "tickSize": -6}}
        }
      },
      {
        "data": {"values": [{}]},
        "mark": {"type": "text", "align": "center", "baseline": "alphabetic", "fontSize": 20, "dx": -22, "dy": -9},
        "encoding": {
          "x": {"datum": 5000, "type": "quantitative", "axis": null},
          "y": {"datum": 700000000, "type": "quantitative", "axis": null},
          "text": {"value": "Total signal versus frame number"}
        }
      },
      {
        "data": {"values": [{}]},
        "mark": {"type": "text", "align": "left", "baseline": "middle", "fontSize": 25.5},
        "encoding": {
          "x": {"datum": 1880, "type": "quantitative", "axis": null},
          "y": {"datum": 637000000, "type": "quantitative", "axis": null},
          "text": {"value": "Normalized Std. Deviation = 1.78"}
        }
      },
      {
        "data": {"values": [{}]},
        "mark": {"type": "text", "align": "left", "baseline": "alphabetic", "fontSize": 21, "dy": -9, "dx": -2},
        "encoding": {
          "x": {"datum": 0, "type": "quantitative", "axis": null},
          "y": {"datum": 700000000, "type": "quantitative", "axis": null},
          "text": {"value": "x 10"}
        }
      },
      {
        "data": {"values": [{}]},
        "mark": {"type": "text", "align": "left", "baseline": "alphabetic", "fontSize": 20, "dy": -21, "dx": 44},
        "encoding": {
          "x": {"datum": 0, "type": "quantitative", "axis": null},
          "y": {"datum": 700000000, "type": "quantitative", "axis": null},
          "text": {"value": "8"}
        }
      }
    ],
    "resolve": {"axis": {"x": "independent", "y": "independent"}}
  },
  {
    "width": 504, "height": 467,
    "layer": [
      {
        "data": {"name": "psd"},
        "mark": {"type": "line", "color": "#0000ff", "strokeWidth": 1.9, "clip": true},
        "encoding": {
          "x": {"field": "f", "type": "quantitative", "scale": {"type": "log", "domain": [0.01, 100], "nice": false},
            "axis": {"title": "Frequency (Hz)", "values": [0.01,0.02,0.03,0.04,0.05,0.06,0.07,0.08,0.09,0.1,0.2,0.3,0.4,0.5,0.6,0.7,0.8,0.9,1,2,3,4,5,6,7,8,9,10,20,30,40,50,60,70,80,90,100],
              "labelExpr": "datum.value == 0.01 ? '10⁻²' : datum.value == 0.1 ? '10⁻¹' : datum.value == 1 ? '10⁰' : datum.value == 10 ? '10¹' : datum.value == 100 ? '10²' : ''",
              "tickSize": {"condition": {"test": "indexof([0.01,0.1,1,10,100], datum.value) >= 0", "value": -8}, "value": -4},
              "labelPadding": 22, "titlePadding": 5}},
          "y": {"field": "p", "type": "quantitative", "scale": {"type": "log", "domain": [100, 100000000000000], "nice": false},
            "axis": {"title": "PSD of Total Signal", "values": [100, 10000, 1000000, 100000000, 10000000000, 1000000000000, 100000000000000],
              "labelExpr": "'10' + (datum.value == 100 ? '²' : datum.value == 10000 ? '⁴' : datum.value == 1000000 ? '⁶' : datum.value == 100000000 ? '⁸' : datum.value == 10000000000 ? '¹⁰' : datum.value == 1000000000000 ? '¹²' : '¹⁴')",
              "tickSize": -6, "labelPadding": 12, "titlePadding": 30}}
        }
      },
      {
        "data": {"name": "fit"},
        "mark": {"type": "line", "color": "#ff8c00", "strokeWidth": 1.5, "clip": true},
        "encoding": {
          "x": {"field": "f", "type": "quantitative", "scale": {"type": "log", "domain": [0.01, 100], "nice": false},
            "axis": {"orient": "top", "title": null, "labels": false, "values": [0.01,0.02,0.03,0.04,0.05,0.06,0.07,0.08,0.09,0.1,0.2,0.3,0.4,0.5,0.6,0.7,0.8,0.9,1,2,3,4,5,6,7,8,9,10,20,30,40,50,60,70,80,90,100],
              "tickSize": {"condition": {"test": "indexof([0.01,0.1,1,10,100], datum.value) >= 0", "value": -8}, "value": -4}}},
          "y": {"field": "p", "type": "quantitative", "scale": {"type": "log", "domain": [100, 100000000000000], "nice": false},
            "axis": {"orient": "right", "title": null, "labels": false, "values": [100, 10000, 1000000, 100000000, 10000000000, 1000000000000, 100000000000000], "tickSize": -6}}
        }
      },
      {
        "data": {"values": [{}]},
        "mark": {"type": "text", "align": "center", "baseline": "alphabetic", "fontSize": 20, "dx": -20, "dy": -16},
        "encoding": {
          "x": {"datum": 1, "type": "quantitative", "scale": {"type": "log"}, "axis": null},
          "y": {"datum": 100000000000000, "type": "quantitative", "scale": {"type": "log"}, "axis": null},
          "text": {"value": "PSD of Total Signal History versus Frequency"}
        }
      },
      {
        "data": {"values": [{}]},
        "mark": {"type": "rule", "color": "black", "strokeWidth": 1.2},
        "encoding": {
          "x": {"datum": 0.952, "type": "quantitative", "scale": {"type": "log"}, "axis": null},
          "y": {"datum": 178000000, "type": "quantitative", "scale": {"type": "log"}, "axis": null},
          "x2": {"datum": 5.68},
          "y2": {"datum": 72000000000}
        }
      },
      {
        "data": {"values": [{}]},
        "mark": {"type": "point", "shape": "M-0.55,0.9L0,0L0.55,0.9", "filled": false, "stroke": "black", "strokeWidth": 1.2, "size": 350, "angle": 44, "opacity": 1},
        "encoding": {
          "x": {"datum": 5.68, "type": "quantitative", "scale": {"type": "log"}, "axis": null},
          "y": {"datum": 72000000000, "type": "quantitative", "scale": {"type": "log"}, "axis": null}
        }
      },
      {
        "data": {"values": [{}]},
        "mark": {"type": "text", "align": "left", "baseline": "middle", "fontSize": 25.5},
        "encoding": {
          "x": {"datum": 0.01495, "type": "quantitative", "scale": {"type": "log"}, "axis": null},
          "y": {"datum": 110000000, "type": "quantitative", "scale": {"type": "log"}, "axis": null},
          "text": {"value": "Exponent = -2 ±0.2"}
        }
      }
    ],
    "resolve": {"axis": {"x": "independent", "y": "independent"}}
  }
]
}
